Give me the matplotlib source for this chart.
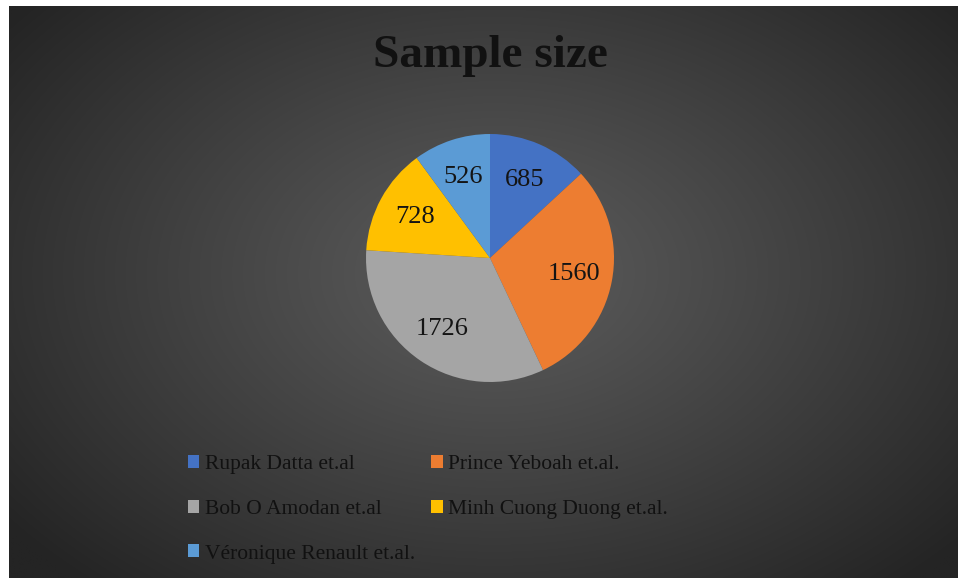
import numpy as np
import matplotlib
matplotlib.use("Agg")
import matplotlib.pyplot as plt

# data
studies = ["Rupak Datta et.al", "Prince Yeboah et.al.", "Bob O Amodan et.al",
           "Minh Cuong Duong et.al.", "Véronique Renault et.al."]
sample_sizes = [685, 1560, 1726, 728, 526]
colors = ["#4472C4", "#ED7D31", "#A5A5A5", "#FFC000", "#5B9BD5"]

plt.rcParams['font.family'] = ['Liberation Serif', 'DejaVu Serif']

W, H = 958, 578
fig = plt.figure(figsize=(W / 100, H / 100), dpi=100, facecolor="white")

# dark radial gradient background (white strip left/top as in the screenshot)
bg = fig.add_axes([9 / W, 0, 1 - 9 / W, 1 - 6 / H])
yy, xx = np.mgrid[0:H, 0:W]
d = np.sqrt(((xx - 490) / 620.0) ** 2 + ((yy - 270) / 420.0) ** 2)
d = np.clip(d, 0, 1)
inner, outer = 0x5c, 0x24
grey = (inner + (outer - inner) * d ** 1.1) / 255.0
img = np.dstack([grey, grey, grey])
bg.imshow(img, aspect="auto", extent=[0, 1, 0, 1])
bg.set_axis_off()

fig.text(490 / W, 1 - 56 / H, "Sample size", ha="center", va="center",
         fontsize=34, fontweight="bold", color="#111111")

# pie
cx, cy, r = 490, 258, 124
ax = fig.add_axes([(cx - r) / W, (H - cy - r) / H, 2 * r / W, 2 * r / H])
total = sum(sample_sizes)
wedges, texts, autotexts = ax.pie(
    sample_sizes, colors=colors, startangle=90, counterclock=False,
    autopct=lambda p: f"{round(p * total / 100)}", pctdistance=0.69,
    wedgeprops=dict(linewidth=0),
    textprops=dict(fontsize=19, color="#141414"))
ax.set_xlim(-1, 1)
ax.set_ylim(-1, 1)
ax.set_axis_off()

# legend: Excel order row-wise, matplotlib fills columns first
order = [0, 2, 4, 1, 3]
leg = fig.legend([wedges[i] for i in order], [studies[i] for i in order],
                 loc="upper left", bbox_to_anchor=(179 / W, 1 - 446 / H),
                 ncol=2, frameon=False, fontsize=15.5, handlelength=0.55,
                 handleheight=0.55, handletextpad=0.25, columnspacing=0.75,
                 labelspacing=1.2, borderaxespad=0)
for t in leg.get_texts():
    t.set_color("#111111")

fig.savefig("out.png", dpi=100, facecolor=fig.get_facecolor())
